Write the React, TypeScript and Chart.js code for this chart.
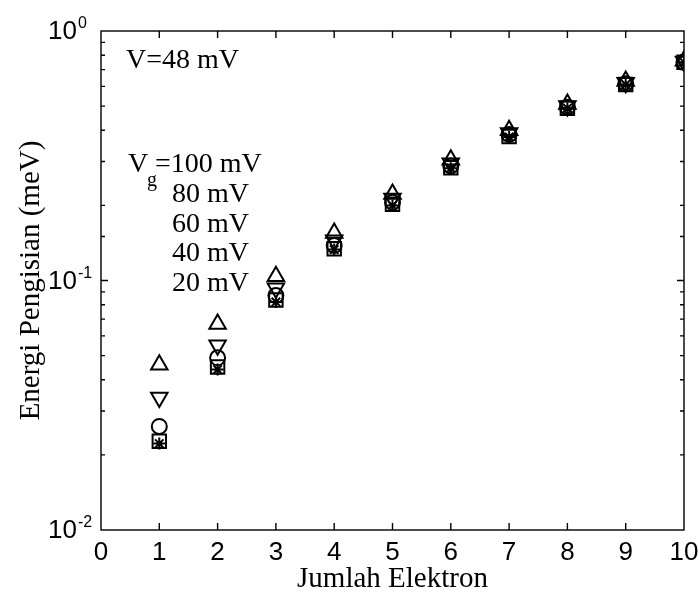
import React, { useEffect, useRef } from 'react';
import { Chart, registerables } from 'chart.js';

Chart.register(...registerables);

// ---- data ----
const electrons = [1, 2, 3, 4, 5, 6, 7, 8, 9, 10];
const energyVg100 = [0.046, 0.067, 0.104, 0.155, 0.222, 0.305, 0.4, 0.51, 0.63, 0.76];
const energyVg80 = [0.034, 0.055, 0.093, 0.145, 0.213, 0.295, 0.39, 0.5, 0.62, 0.755];
const energyVg60 = [0.026, 0.049, 0.087, 0.138, 0.206, 0.288, 0.385, 0.495, 0.615, 0.75];
const energyVg40 = [0.0227, 0.045, 0.0835, 0.134, 0.202, 0.283, 0.378, 0.49, 0.61, 0.75];
const energyVg20 = [0.0222, 0.044, 0.082, 0.133, 0.2, 0.282, 0.376, 0.49, 0.61, 0.75];

const seriesNames = ['Vg=100 mV', 'Vg=80 mV', 'Vg=60 mV', 'Vg=40 mV', 'Vg=20 mV'];
const biasLabel = 'V=48 mV';
const gateLabels = ['80 mV', '60 mV', '40 mV', '20 mV'];
const xTitle = 'Jumlah Elektron';
const yTitle = 'Energi Pengisian (meV)';
const xMin = 0;
const xMax = 10;
const yMin = 0.01;
const yMax = 1;

const SERIF = '"Liberation Serif", "Times New Roman", serif';
const SANS = '"Liberation Sans Narrow", "Liberation Sans", Arial, sans-serif';
const PAD_LEFT = 14;

const toPoints = (ys: number[]) => electrons.map((x, i) => ({ x, y: ys[i] }));

const isDecade = (v: number) => {
  const l = Math.log10(v);
  return Math.abs(l - Math.round(l)) < 1e-6;
};

const framePlugin = {
  id: 'framePlugin',
  afterDatasetsDraw(chart: any) {
    const { ctx, chartArea: a, scales } = chart;
    const xs = scales.x;
    const ys = scales.y;
    ctx.save();
    ctx.strokeStyle = '#000';
    ctx.lineWidth = 1.4;
    ctx.strokeRect(a.left, a.top, a.right - a.left, a.bottom - a.top);
    ctx.beginPath();
    xs.ticks.forEach((t: any) => {
      if (t.value <= xMin || t.value >= xMax) return;
      const px = xs.getPixelForValue(t.value);
      ctx.moveTo(px, a.bottom);
      ctx.lineTo(px, a.bottom - 7);
      ctx.moveTo(px, a.top);
      ctx.lineTo(px, a.top + 7);
    });
    ys.ticks.forEach((t: any) => {
      if (t.value <= yMin || t.value >= yMax) return;
      const py = ys.getPixelForValue(t.value);
      const len = isDecade(t.value) ? 7 : 4;
      ctx.moveTo(a.left, py);
      ctx.lineTo(a.left + len, py);
      ctx.moveTo(a.right, py);
      ctx.lineTo(a.right - len, py);
    });
    ctx.stroke();

    // y tick labels with superscript exponents
    ctx.fillStyle = '#000';
    ys.ticks.forEach((t: any) => {
      if (!isDecade(t.value)) return;
      const py = ys.getPixelForValue(t.value);
      const exp = Math.round(Math.log10(t.value));
      ctx.font = `26px ${SANS}`;
      ctx.textAlign = 'right';
      ctx.textBaseline = 'middle';
      ctx.fillText('10', a.left - 24, py + 1);
      ctx.font = `16px ${SANS}`;
      ctx.textAlign = 'left';
      ctx.textBaseline = 'alphabetic';
      ctx.fillText(String(exp), a.left - 23, py - 3);
    });

    // annotations inside the plot
    ctx.font = `28px ${SERIF}`;
    ctx.textAlign = 'left';
    ctx.textBaseline = 'alphabetic';
    const l = a.left;
    const t0 = a.top;
    ctx.fillText(biasLabel, l + 25, t0 + 37);
    ctx.fillText('V', l + 27, t0 + 141);
    ctx.font = `20px ${SERIF}`;
    ctx.fillText('g', l + 46, t0 + 155);
    ctx.font = `28px ${SERIF}`;
    ctx.fillText('=100 mV', l + 54, t0 + 141);
    gateLabels.forEach((s, i) => {
      ctx.fillText(s, l + 71, t0 + 171 + i * 29.7);
    });
    ctx.restore();
  },
};

export default function App() {
  const ref = useRef<HTMLCanvasElement | null>(null);
  useEffect(() => {
    if (!ref.current) return;
    const common = {
      showLine: false,
      borderColor: '#000',
      backgroundColor: 'rgba(0,0,0,0)',
      pointBorderColor: '#000',
      pointBackgroundColor: 'rgba(0,0,0,0)',
      pointBorderWidth: 2,
    };
    const chart = new Chart(ref.current, {
      type: 'scatter',
      data: {
        datasets: [
          { ...common, label: seriesNames[0], data: toPoints(energyVg100), pointStyle: 'triangle', pointRadius: 9.5 },
          { ...common, label: seriesNames[1], data: toPoints(energyVg80), pointStyle: 'triangle', pointRotation: 180, pointRadius: 9.5 },
          { ...common, label: seriesNames[2], data: toPoints(energyVg60), pointStyle: 'circle', pointRadius: 7.5 },
          { ...common, label: seriesNames[3], data: toPoints(energyVg40), pointStyle: 'rect', pointRadius: 9.5 },
          { ...common, label: seriesNames[4], data: toPoints(energyVg20), pointStyle: 'star', pointRadius: 6 },
        ],
      },
      options: {
        animation: false,
        responsive: false,
        devicePixelRatio: 1,
        events: [],
        layout: { padding: { left: PAD_LEFT, right: 15, top: 31, bottom: 0 } },
        plugins: { legend: { display: false }, tooltip: { enabled: false } },
        scales: {
          x: {
            type: 'linear',
            min: xMin,
            max: xMax,
            grid: { display: false, drawTicks: false },
            border: { display: false },
            ticks: {
              stepSize: 1,
              autoSkip: false,
              color: '#000',
              padding: 7,
              font: { family: SANS, size: 26 },
            },
            title: {
              display: true,
              text: xTitle,
              color: '#000',
              padding: { top: 0, bottom: -3 },
              font: { family: SERIF, size: 29 },
            },
            afterFit: (s: any) => {
              s.height = 64;
              s.paddingLeft = 0;
              s.paddingRight = 0;
            },
          },
          y: {
            type: 'logarithmic',
            min: yMin,
            max: yMax,
            grid: { display: false, drawTicks: false },
            border: { display: false },
            ticks: { display: false, autoSkip: false },
            title: {
              display: true,
              text: yTitle,
              color: '#000',
              padding: { top: 0, bottom: 0 },
              font: { family: SERIF, size: 29 },
            },
            afterFit: (s: any) => {
              s.width = 101 - PAD_LEFT;
              s.paddingTop = 0;
              s.paddingBottom = 0;
            },
          },
        },
      },
      plugins: [framePlugin],
    } as any);
    return () => chart.destroy();
  }, []);
  return (
    <div style={{ position: 'absolute', left: 0, top: 0, width: 699, height: 594, background: '#fff' }}>
      <canvas ref={ref} width={699} height={594} style={{ display: 'block' }} />
    </div>
  );
}
